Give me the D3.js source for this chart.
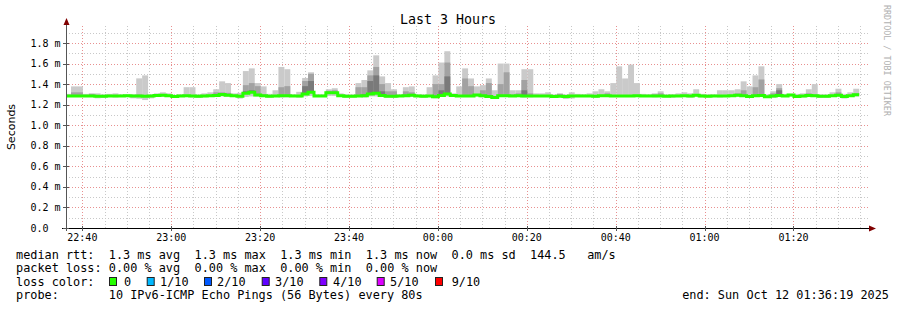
<!DOCTYPE html>
<html><head><meta charset="utf-8">
<script src="https://cdn.jsdelivr.net/npm/d3@7"></script>
<style>body{margin:0;background:#fff}svg{display:block}</style>
</head><body><svg id="c" width="897" height="310"></svg>
<script>
// ---- data (ms) : one value per 80 s step, step 0 starts 22:36:07 ----
const med = [1.285,1.285,1.285,1.285,1.285,1.283,1.283,1.285,1.285,1.285,1.287,1.285,1.285,1.283,1.285,1.290,1.292,1.288,1.280,1.285,
1.287,1.285,1.283,1.285,1.287,1.290,1.298,1.292,1.288,1.283,1.310,1.320,1.295,1.288,1.283,1.285,1.288,1.288,1.285,1.285,
1.305,1.322,1.285,1.285,1.315,1.315,1.288,1.283,1.283,1.285,1.287,1.305,1.310,1.290,1.283,1.283,1.285,1.287,1.292,1.285,
1.282,1.285,1.278,1.290,1.305,1.290,1.285,1.285,1.285,1.295,1.288,1.280,1.270,1.288,1.288,1.285,1.287,1.285,1.285,1.285,
1.285,1.285,1.280,1.283,1.280,1.285,1.285,1.285,1.285,1.283,1.287,1.287,1.285,1.285,1.285,1.285,1.287,1.285,1.285,1.285,
1.285,1.282,1.285,1.285,1.287,1.285,1.292,1.285,1.283,1.285,1.285,1.285,1.287,1.292,1.287,1.280,1.288,1.290,1.278,1.285,
1.290,1.285,1.293,1.280,1.285,1.290,1.287,1.283,1.283,1.287,1.292,1.280,1.287,1.297];
const lo = [1.275,1.275,1.275,1.278,1.275,1.262,1.265,1.275,1.270,1.275,1.275,1.262,1.258,1.245,1.262,1.275,1.280,1.275,1.268,1.275,
1.275,1.270,1.265,1.272,1.275,1.275,1.280,1.278,1.275,1.260,1.275,1.280,1.278,1.275,1.268,1.275,1.270,1.272,1.275,1.268,
1.280,1.285,1.275,1.275,1.285,1.285,1.275,1.268,1.270,1.275,1.270,1.280,1.280,1.275,1.268,1.265,1.275,1.275,1.278,1.275,
1.268,1.275,1.262,1.275,1.280,1.278,1.275,1.275,1.275,1.280,1.272,1.268,1.255,1.275,1.275,1.275,1.275,1.270,1.272,1.275,
1.275,1.275,1.268,1.272,1.255,1.260,1.275,1.275,1.275,1.265,1.275,1.275,1.275,1.275,1.275,1.275,1.275,1.275,1.275,1.272,
1.275,1.272,1.268,1.275,1.275,1.268,1.278,1.270,1.270,1.275,1.270,1.275,1.275,1.278,1.275,1.270,1.275,1.275,1.268,1.265,
1.275,1.275,1.280,1.270,1.270,1.275,1.275,1.265,1.265,1.275,1.278,1.260,1.275,1.280];
const hi = [1.305,1.378,1.378,1.305,1.310,1.310,1.300,1.305,1.310,1.300,1.300,1.300,1.456,1.485,1.300,1.310,1.320,1.310,1.295,1.300,
1.370,1.370,1.300,1.310,1.320,1.350,1.427,1.410,1.310,1.315,1.527,1.553,1.410,1.378,1.305,1.340,1.567,1.545,1.300,1.325,
1.460,1.515,1.300,1.300,1.350,1.360,1.310,1.300,1.300,1.410,1.440,1.534,1.680,1.475,1.410,1.350,1.300,1.370,1.378,1.300,
1.300,1.370,1.485,1.610,1.720,1.310,1.378,1.553,1.455,1.378,1.390,1.455,1.340,1.600,1.600,1.340,1.340,1.545,1.545,1.310,
1.310,1.320,1.300,1.310,1.300,1.320,1.305,1.300,1.310,1.330,1.350,1.330,1.410,1.573,1.455,1.590,1.410,1.305,1.300,1.310,
1.330,1.300,1.300,1.310,1.320,1.310,1.350,1.305,1.300,1.300,1.340,1.340,1.340,1.350,1.427,1.378,1.485,1.573,1.300,1.330,
1.400,1.305,1.305,1.305,1.310,1.350,1.400,1.300,1.300,1.320,1.355,1.305,1.320,1.355];
const hi2 = [null,1.320,1.320,null,1.305,null,null,null,null,null,null,null,1.300,1.295,null,null,null,null,1.290,null,
null,null,null,null,null,1.320,1.320,1.315,null,null,1.390,1.410,1.380,1.300,null,null,1.370,1.380,null,null,
1.430,1.500,null,null,1.335,1.340,null,null,null,1.370,1.370,1.485,1.567,1.400,1.330,1.330,null,1.330,1.320,null,
null,null,1.400,1.400,1.610,null,null,1.455,1.380,null,1.340,1.410,null,1.400,1.515,1.300,1.310,1.440,1.310,null,
null,null,null,1.305,null,null,null,null,null,null,null,1.310,null,null,null,null,null,null,null,1.300,
1.310,null,null,null,null,null,null,null,null,null,null,null,null,1.310,1.340,null,1.370,1.445,null,1.310,
1.360,null,null,null,null,1.310,1.300,null,null,null,1.320,null,null,1.310];
const hi3 = [null,null,null,null,null,null,null,null,null,null,null,null,null,null,null,null,null,null,null,null,
null,null,null,null,null,null,null,null,null,null,1.330,1.340,null,null,null,null,null,null,null,null,
1.380,1.430,null,null,1.320,1.320,null,null,null,null,1.300,1.430,1.485,1.330,null,null,null,null,null,null,
null,null,null,1.340,1.475,null,null,null,null,null,null,null,null,null,null,null,null,1.340,null,null,
null,null,null,null,null,null,null,null,null,null,null,null,null,null,null,null,null,null,null,null,
null,null,null,null,null,null,null,null,null,null,null,null,null,null,null,null,null,null,null,null,
1.340,null,null,null,null,null,null,null,null,null,null,null,null,null];
const yTickValues = [0,0.2,0.4,0.6,0.8,1.0,1.2,1.4,1.6,1.8];
const yTickLabels = ["0.0","0.2 m","0.4 m","0.6 m","0.8 m","1.0 m","1.2 m","1.4 m","1.6 m","1.8 m"];
const lossLabels = ["0","1/10","2/10","3/10","4/10","5/10","9/10"];
const lossColors = ["#26ff00","#00b8ff","#0059ff","#5e00ff","#7e00ff","#dd00ff","#ff0000"];
const statsRow1 = [[0,"median rtt:"],[13,"1.3 ms avg"],[25,"1.3 ms max"],[37,"1.3 ms min"],[49,"1.3 ms now"],[61,"0.0 ms sd"],[72,"144.5"],[80,"am/s"]];
const statsRow2 = [[0,"packet loss:"],[13,"0.00 % avg"],[25,"0.00 % max"],[37,"0.00 % min"],[49,"0.00 % now"]];

// ---- layout ----
const svg = d3.select("#c");
const X0 = 66, X1 = 866, YT = 28, YB = 228;
const MONO = "'DejaVu Sans Mono', monospace";
const start = new Date(2025,9,11,22,36,19), end = new Date(2025,9,12,1,36,19);
const stepStart = new Date(2025,9,11,22,36,7);
const tk = i => new Date(stepStart.getTime() + i*80000);
const x = d3.scaleTime().domain([start,end]).range([X0,X1]);
const y = d3.scaleLinear().domain([0,1.946]).range([YB,YT]);

svg.append("rect").attr("width",897).attr("height",310).attr("fill","#fff");
svg.append("defs").append("clipPath").attr("id","pc").append("rect")
  .attr("x",X0).attr("y",YT).attr("width",X1-X0).attr("height",YB-YT);

// grid
const g = svg.append("g");
const minorY = d3.range(1,20).map(d=>d/10).filter(d=>Math.round(d*10)%2===1);
minorY.forEach(v=>{ const yy=Math.round(y(v))+0.5;
  g.append("line").attr("x1",X0).attr("x2",X1+3).attr("y1",yy).attr("y2",yy)
   .attr("stroke","#c8c8c8").attr("stroke-dasharray","1,2");});
yTickValues.slice(1).forEach(v=>{ const yy=Math.round(y(v))+0.5;
  g.append("line").attr("x1",X0).attr("x2",X1+3).attr("y1",yy).attr("y2",yy)
   .attr("stroke","#e89090").attr("stroke-dasharray","1,2");});
const minorT = d3.timeMinute.every(5).range(start,end).filter(t=>t.getMinutes()%20!==0);
const majorT = d3.timeMinute.every(20).range(start,end);
minorT.forEach(t=>{ const xx=Math.round(x(t))+0.5;
  g.append("line").attr("x1",xx).attr("x2",xx).attr("y1",YT-2).attr("y2",YB)
   .attr("stroke","#c8c8c8").attr("stroke-dasharray","1,2");});
majorT.forEach(t=>{ const xx=Math.round(x(t))+0.5;
  g.append("line").attr("x1",xx).attr("x2",xx).attr("y1",YT-2).attr("y2",YB)
   .attr("stroke","#e89090").attr("stroke-dasharray","1,2");});

// smoke
const plot = svg.append("g").attr("clip-path","url(#pc)");
function band(lowArr, highArr, color){
  highArr.forEach((h,i)=>{
    if(h==null) return;
    const l = lowArr[i];
    const x0 = x(tk(i)), x1 = x(tk(i+1));
    plot.append("rect").attr("x",x0).attr("width",x1-x0)
      .attr("y",y(h)).attr("height",Math.max(0,y(l)-y(h))).attr("fill",color);
  });
}
band(lo, hi, "#cacaca");
band(med, hi2, "#a2a2a2");
band(med, hi3, "#7a7a7a");

// median line
const pts = med.map((v,i)=>[tk(i),v]); pts.push([tk(med.length), med[med.length-1]]);
plot.append("path").attr("d", d3.line().x(d=>x(d[0])).y(d=>y(d[1])).curve(d3.curveStepAfter)(pts))
  .attr("fill","none").attr("stroke",lossColors[0]).attr("stroke-width",3);

// axes
svg.append("line").attr("x1",X0+0.5).attr("x2",X0+0.5).attr("y1",YB+3).attr("y2",22).attr("stroke","#555");
svg.append("line").attr("x1",X0-4).attr("x2",872).attr("y1",YB+0.5).attr("y2",YB+0.5).attr("stroke","#000");
svg.append("path").attr("d",`M${X0+0.5},18 L${X0-2.5},25 L${X0+3.5},25 Z`).attr("fill","#800000");
svg.append("path").attr("d",`M876,${YB+0.5} L869,${YB-2.5} L869,${YB+3.5} Z`).attr("fill","#800000");
yTickValues.forEach(v=>{ const yy=Math.round(y(v))+0.5;
  svg.append("line").attr("x1",X0-3).attr("x2",X0+3).attr("y1",yy).attr("y2",yy).attr("stroke","#555");});
majorT.forEach(t=>{ const xx=Math.round(x(t))+0.5;
  svg.append("line").attr("x1",xx).attr("x2",xx).attr("y1",YB-2).attr("y2",YB+3).attr("stroke","#555");});

// tick labels
yTickValues.forEach((v,i)=>{
  svg.append("text").attr("x",30.5).attr("y",y(v)+3.5).attr("font-family",MONO).attr("font-size",10)
    .attr("fill","#000").text(yTickLabels[i]);});
const fmt = d3.timeFormat("%H:%M");
majorT.forEach(t=>{
  svg.append("text").attr("x",x(t)).attr("y",241).attr("text-anchor","middle").attr("font-family",MONO)
    .attr("font-size",10).attr("fill","#000").text(fmt(t));});

// title, axis label, watermark
svg.append("text").attr("x",448).attr("y",24).attr("text-anchor","middle").attr("font-family",MONO)
  .attr("font-size",13.3).attr("fill","#000").text("Last 3 Hours");
svg.append("text").attr("transform","translate(15,127) rotate(-90)").attr("text-anchor","middle")
  .attr("font-family","'DejaVu Sans', sans-serif").attr("font-size",11).attr("fill","#000").text("Seconds");
svg.append("text").attr("transform","translate(884,5) rotate(90)").attr("font-family",MONO)
  .attr("font-size",8.4).attr("fill","#b0b0b0").text("RRDTOOL / TOBI OETIKER");

// legend
const CW = 7.14, LX = 16, FS = 11.85;
function seg(col, yy, s){ svg.append("text").attr("x",LX+col*CW).attr("y",yy).attr("font-family",MONO)
  .attr("font-size",FS).attr("fill","#000").style("white-space","pre").text(s); }
statsRow1.forEach(([c,s])=>seg(c,258.5,s));
statsRow2.forEach(([c,s])=>seg(c,272,s));
seg(0,285.7,"loss color:");
const boxX = [109,146.7,204,261.7,319.3,376.7,435];
const labX = [124,160,217,275,333,390,451.7];
lossLabels.forEach((l,i)=>{
  svg.append("rect").attr("x",boxX[i]+0.5).attr("y",277.5).attr("width",7).attr("height",8)
    .attr("fill",lossColors[i]).attr("stroke","#222").attr("stroke-width",1);
  svg.append("text").attr("x",labX[i]).attr("y",285.7).attr("font-family",MONO).attr("font-size",FS)
    .attr("fill","#000").text(l);
});
seg(0,299.3,"probe:");
seg(13,299.3,"10 IPv6-ICMP Echo Pings (56 Bytes) every 80s");
svg.append("text").attr("x",889).attr("y",299.3).attr("text-anchor","end").attr("font-family",MONO)
  .attr("font-size",FS).attr("fill","#000").text("end: Sun Oct 12 01:36:19 2025");
</script></body></html>
